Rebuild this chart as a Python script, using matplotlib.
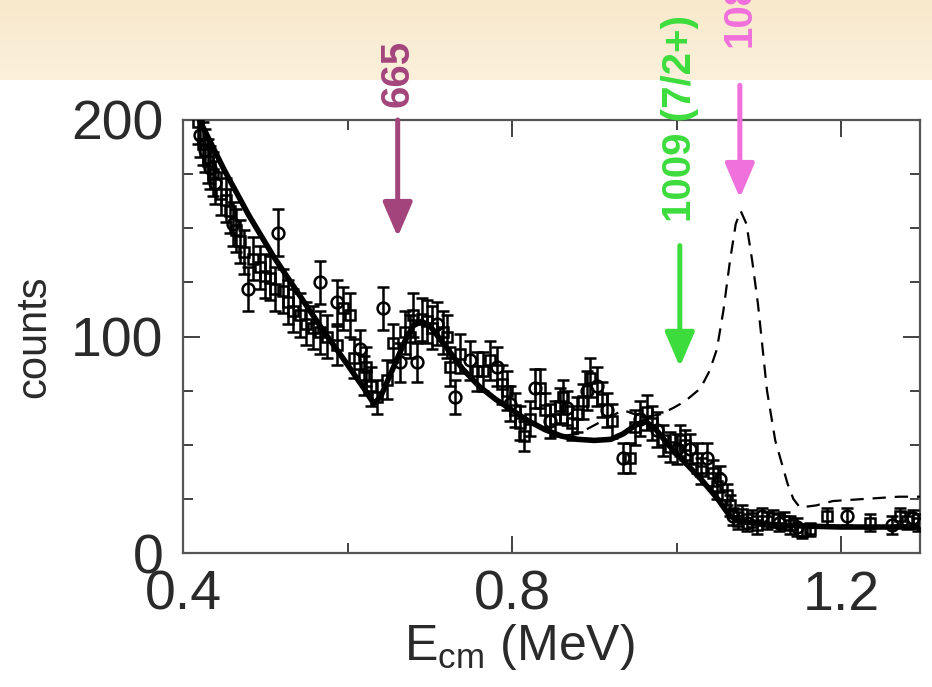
import matplotlib
matplotlib.use("Agg")
import matplotlib.pyplot as plt
import numpy as np
from matplotlib.transforms import blended_transform_factory
from matplotlib.ticker import MultipleLocator, FixedLocator

plt.rcParams['font.family'] = ['Liberation Sans', 'DejaVu Sans']
plt.rcParams['mathtext.fontset'] = 'custom'
plt.rcParams['mathtext.rm'] = 'Liberation Sans'
plt.rcParams['mathtext.it'] = 'Liberation Sans'

# ---------------- data ----------------
circ_E = [0.421, 0.427, 0.433, 0.439, 0.461, 0.479, 0.516, 0.567, 0.587, 0.615,
          0.643, 0.664, 0.684, 0.709, 0.731, 0.749, 0.782, 0.798, 0.828, 0.846,
          0.867, 0.891, 0.903, 0.915, 0.935, 0.956, 0.976, 1.000, 1.016, 1.037,
          1.053, 1.069, 1.086, 1.104, 1.124, 1.146, 1.207, 1.262, 1.288]
circ_counts = [193, 186, 178, 171, 152, 122, 148, 125, 116, 94,
               113, 88, 88, 106, 72, 89, 86, 69, 76, 61,
               67, 75, 77, 66, 44, 62, 57, 48, 48, 44,
               34, 17, 14, 17, 14, 12, 17, 13, 16]
circ_err = [10, 10, 10, 10, 10, 10, 11, 10, 10, 9,
            10, 9, 9, 10, 8, 9, 9, 8, 9, 8,
            8, 9, 9, 8, 7, 8, 8, 7, 7, 7,
            6, 4, 4, 4, 4, 4, 4, 4, 4]

sq_E = [0.418, 0.424, 0.430, 0.436, 0.446, 0.452, 0.457, 0.465, 0.469, 0.474,
        0.485, 0.494, 0.500, 0.506, 0.512, 0.522, 0.528, 0.534, 0.542, 0.550,
        0.558, 0.567, 0.575, 0.587, 0.595, 0.603, 0.608, 0.620, 0.623, 0.628,
        0.636, 0.648, 0.655, 0.670, 0.676, 0.680, 0.690, 0.697, 0.703, 0.716,
        0.721, 0.725, 0.737, 0.757, 0.765, 0.773, 0.788, 0.794, 0.804, 0.810,
        0.814, 0.822, 0.834, 0.840, 0.852, 0.858, 0.862, 0.873, 0.879, 0.886,
        0.895, 0.909, 0.921, 0.943, 0.950, 0.964, 0.970, 0.984, 0.992, 1.004,
        1.010, 1.025, 1.030, 1.044, 1.049, 1.061, 1.065, 1.075, 1.080, 1.092,
        1.098, 1.110, 1.117, 1.131, 1.138, 1.153, 1.162, 1.183, 1.235, 1.272,
        1.280, 1.294]
sq_counts = [199, 189, 181, 175, 166, 163, 158, 149, 144, 139,
             136, 132, 128, 127, 122, 121, 116, 112, 110, 106,
             104, 102, 100, 96, 113, 110, 90, 82, 86, 77,
             72, 80, 97, 102, 100, 110, 108, 107, 104, 102,
             100, 86, 92, 84, 84, 89, 78, 75, 66, 60,
             54, 62, 76, 66, 62, 68, 72, 60, 64, 70,
             81, 71, 61, 44, 58, 65, 60, 52, 49, 52,
             50, 44, 38, 37, 31, 27, 22, 15, 18, 16,
             13, 15, 16, 15, 13, 10, 11, 17, 14, 17,
             15, 14]
sq_err = [10, 10, 10, 10, 10, 10, 10, 10, 10, 10,
          10, 10, 10, 10, 10, 10, 10, 10, 10, 10,
          10, 10, 10, 9, 10, 10, 9, 9, 9, 9,
          8, 9, 9, 10, 10, 10, 10, 10, 10, 10,
          10, 9, 9, 9, 9, 9, 9, 9, 8, 8,
          7, 8, 9, 8, 8, 8, 8, 8, 8, 8,
          9, 8, 8, 7, 8, 8, 8, 7, 7, 7,
          7, 7, 6, 6, 6, 5, 5, 4, 4, 4,
          4, 4, 4, 4, 4, 3, 3, 4, 4, 4,
          4, 4]

# solid fit curve
fit_E = [0.415, 0.42, 0.45, 0.48, 0.51, 0.54, 0.57, 0.60, 0.62, 0.632, 0.64,
         0.655, 0.67, 0.68, 0.69, 0.70, 0.72, 0.74, 0.76, 0.78, 0.80, 0.82,
         0.84, 0.86, 0.88, 0.90, 0.92, 0.935, 0.95, 0.962, 0.975, 0.99, 1.01,
         1.03, 1.05, 1.065, 1.08, 1.10, 1.15, 1.20, 1.25, 1.296]
fit_counts = [205, 200, 177, 156, 137, 120, 103, 87, 76, 69, 72,
              85, 98, 105, 107, 105, 95, 85, 77, 71, 66, 61,
              57, 54, 52.5, 52, 52.5, 55, 59, 61, 57, 50, 42,
              34, 25, 17, 14.5, 13.5, 12.5, 12, 12, 12]

# dashed fit curve (with 1080 resonance)
dash_E = [0.84, 0.86, 0.88, 0.90, 0.935, 0.95, 0.965, 0.98, 0.996, 1.01, 1.029,
          1.04, 1.049, 1.057, 1.065, 1.072, 1.078, 1.085, 1.092, 1.099, 1.11,
          1.12, 1.126, 1.135, 1.142, 1.15, 1.17, 1.19, 1.23, 1.27, 1.296]
dash_counts = [57, 54, 55, 59, 66, 64, 63, 64, 67, 70, 76,
               84, 94, 112, 135, 152, 158, 152, 135, 115, 75,
               52, 44, 32, 25, 21, 22, 24, 25, 26, 26]

x_ticks = [0.4, 0.8, 1.2]
x_ticklabels = ["0.4", "0.8", "1.2"]
y_ticks = [0, 100, 200]
y_ticklabels = ["0", "100", "200"]

arrows = [  # (energy, start count, tip count, label, color)
    (0.661, 200, 146, "665", "#a3457c"),
    (1.004, 142, 86, "1009 (7/2+)", "#3ddc3d"),
    (1.077, 216, 164, "1080", "#f070dc"),
]
label_bottoms_px = [107, 222, 47]

# ---------------- figure ----------------
W, H = 932, 687
fig = plt.figure(figsize=(W / 100, H / 100), dpi=100)
fig.patch.set_facecolor("white")

# beige band at top
bg = fig.add_axes([0, 1 - 80 / H, 1, 80 / H], zorder=-10)
grad = np.linspace(0, 1, 40)[:, None]
c_top = np.array([0.975, 0.915, 0.80])
c_bot = np.array([0.985, 0.94, 0.86])
img = c_top[None, None, :] * (1 - grad[..., None]) + c_bot[None, None, :] * grad[..., None]
bg.imshow(np.repeat(img, 2, axis=1), aspect="auto", extent=[0, 1, 0, 1], origin="upper")
bg.set_axis_off()

ax = fig.add_axes([183 / W, 1 - 553 / H, (920 - 183) / W, (553 - 120) / H])
ax.set_xlim(0.4, 1.296)
ax.set_ylim(0, 200)

ek = dict(ecolor="black", elinewidth=1.8, capsize=4.5, capthick=1.8,
          linestyle="none", zorder=3)
ax.errorbar(circ_E, circ_counts, yerr=circ_err, fmt="o", ms=8.5, mfc="none",
            mec="black", mew=1.8, **ek)
ax.errorbar(sq_E, sq_counts, yerr=sq_err, fmt="s", ms=7, mfc="none",
            mec="black", mew=1.8, **ek)

ax.plot(fit_E, fit_counts, color="black", lw=4.0, zorder=4, solid_joinstyle="round")
ax.plot(dash_E, dash_counts, color="black", lw=1.6, dashes=(6, 4), zorder=4)

# axes styling
for s in ax.spines.values():
    s.set_color("#555555")
    s.set_linewidth(1.6)
ax.xaxis.set_major_locator(FixedLocator(x_ticks))
ax.set_xticklabels(x_ticklabels)
ax.xaxis.set_minor_locator(MultipleLocator(0.2))
ax.yaxis.set_major_locator(FixedLocator(y_ticks))
ax.set_yticklabels(y_ticklabels)
ax.yaxis.set_minor_locator(MultipleLocator(25))
ax.tick_params(which="both", direction="in", top=True, right=True,
               color="#333333", width=1.3)
ax.tick_params(which="major", length=12, labelsize=40, labelcolor="#2a2a2a")
ax.tick_params(which="minor", length=7)
ax.tick_params(axis="x", which="major", pad=12)
ax.tick_params(axis="y", which="major", pad=14)

ax.set_ylabel("counts", fontsize=30, color="#2a2a2a")
ax.yaxis.set_label_coords(-0.175, 0.5)
ax.set_xlabel(r"E$_{\rm cm}$ (MeV)", fontsize=36, color="#2a2a2a")
ax.xaxis.set_label_coords(0.457, -0.16)

# arrows and labels
blend = blended_transform_factory(ax.transData, fig.transFigure)
for (e, y0, y1, lab, col), bpx in zip(arrows, label_bottoms_px):
    ax.annotate("", xy=(e, y1), xytext=(e, y0), xycoords="data",
                annotation_clip=False,
                arrowprops=dict(arrowstyle="-|>,head_length=0.7,head_width=0.3",
                                color=col, lw=3.6, shrinkA=0, shrinkB=0,
                                mutation_scale=30))
    ax.text(e, 1 - bpx / H, lab, transform=blend, rotation=90, ha="center",
            va="bottom", fontsize=29, fontweight="bold", color=col, zorder=6)

fig.savefig("out.png", dpi=100, facecolor=fig.get_facecolor())
